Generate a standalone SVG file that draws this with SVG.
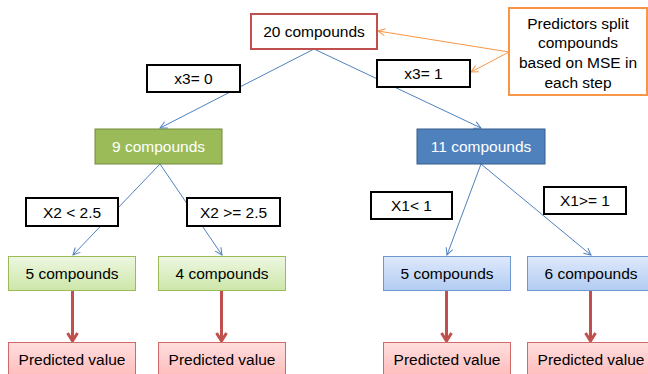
<svg xmlns="http://www.w3.org/2000/svg" width="648" height="374" viewBox="0 0 648 374">
<defs>
<linearGradient id="gGreen" x1="0" y1="0" x2="0" y2="1"><stop offset="0" stop-color="#EEF7E2"/><stop offset="1" stop-color="#CDE6A8"/></linearGradient>
<linearGradient id="gBlue" x1="0" y1="0" x2="0" y2="1"><stop offset="0" stop-color="#DEE9FB"/><stop offset="1" stop-color="#B2CCF2"/></linearGradient>
<linearGradient id="gPink" x1="0" y1="0" x2="0" y2="1"><stop offset="0" stop-color="#FFDEDE"/><stop offset="1" stop-color="#FFB6B6"/></linearGradient>
<marker id="aBlue" markerWidth="10" markerHeight="10" refX="8" refY="4" orient="auto" markerUnits="userSpaceOnUse"><path d="M1,0.5 L8,4 L1,7.5" fill="none" stroke="#4F81BD" stroke-width="1"/></marker>
<marker id="aOrange" markerWidth="10" markerHeight="10" refX="8" refY="4" orient="auto" markerUnits="userSpaceOnUse"><path d="M1,0.5 L8,4 L1,7.5" fill="none" stroke="#F79646" stroke-width="1"/></marker>
<marker id="aRed" markerWidth="14" markerHeight="14" refX="10" refY="6" orient="auto" markerUnits="userSpaceOnUse"><path d="M2,1 L10,6 L2,11" fill="none" stroke="#C0504D" stroke-width="3"/></marker>
</defs>
<style>
text{font-family:"Liberation Sans",Arial,sans-serif;font-size:15.5px;fill:#000;text-anchor:middle}
.blue{stroke:#4F81BD;stroke-width:1;fill:none;marker-end:url(#aBlue)}
.orange{stroke:#F79646;stroke-width:1;fill:none;marker-end:url(#aOrange)}
.red{stroke:#C0504D;stroke-width:3;fill:none;marker-end:url(#aRed)}
.cond{fill:#fff;stroke:#000;stroke-width:2}
.lg{fill:url(#gGreen);stroke:#9BBB59;stroke-width:1}
.lb{fill:url(#gBlue);stroke:#6F98D0;stroke-width:1}
.pk{fill:url(#gPink);stroke:#D06A66;stroke-width:1}
.w{fill:#fff}
</style>
<rect width="648" height="374" fill="#fff"/>
<g id="connectors">
<line class="blue" x1="314" y1="49" x2="160" y2="128"/>
<line class="blue" x1="314" y1="49" x2="481" y2="128"/>
<line class="blue" x1="160" y1="164" x2="73" y2="255"/>
<line class="blue" x1="160" y1="164" x2="222" y2="255"/>
<line class="blue" x1="481" y1="164" x2="447" y2="255"/>
<line class="blue" x1="481" y1="164" x2="591" y2="255"/>
<line class="orange" x1="509" y1="52" x2="378" y2="31"/>
<line class="orange" x1="509" y1="52" x2="471" y2="72"/>
<line class="red" x1="72.5" y1="291" x2="72.5" y2="341"/>
<line class="red" x1="221.5" y1="291" x2="221.5" y2="341"/>
<line class="red" x1="446.5" y1="291" x2="446.5" y2="341"/>
<line class="red" x1="590.5" y1="291" x2="590.5" y2="341"/>
</g>
<g id="root"><rect x="251" y="14" width="126" height="35" fill="#fff" stroke="#C0504D" stroke-width="2"/><text x="314" y="37">20 compounds</text></g>
<g id="note"><rect x="509" y="8" width="138" height="87" fill="#fff" stroke="#F79646" stroke-width="2"/>
<text x="578" y="28.5">Predictors split</text><text x="578" y="48">compounds</text><text x="578" y="68">based on MSE in</text><text x="578" y="87.5">each step</text></g>
<g id="c_x3_0"><rect class="cond" x="147" y="65" width="93" height="27"/><text x="193.5" y="84">x3= 0</text></g>
<g id="c_x3_1"><rect class="cond" x="377" y="60" width="93" height="27"/><text x="423.5" y="79">x3= 1</text></g>
<g id="n9"><rect x="95" y="129" width="127" height="35" fill="#9BBB59" stroke="#71893F" stroke-width="1"/><text class="w" x="158.5" y="152">9 compounds</text></g>
<g id="n11"><rect x="417" y="129" width="128" height="35" fill="#4F81BD" stroke="#385D8A" stroke-width="1"/><text class="w" x="481" y="152">11 compounds</text></g>
<g id="c_x2_lt"><rect class="cond" x="26" y="198" width="92" height="28"/><text x="72" y="217.5">X2 &lt; 2.5</text></g>
<g id="c_x2_ge"><rect class="cond" x="187" y="198" width="93" height="28"/><text x="233.5" y="217.5">X2 &gt;= 2.5</text></g>
<g id="c_x1_lt"><rect class="cond" x="371" y="192" width="81" height="27"/><text x="411.5" y="211">X1&lt; 1</text></g>
<g id="c_x1_ge"><rect class="cond" x="544" y="187" width="82" height="27"/><text x="585" y="206">X1&gt;= 1</text></g>
<g id="n5a"><rect class="lg" x="8.5" y="256.5" width="127" height="34"/><text x="72" y="279">5 compounds</text></g>
<g id="n4"><rect class="lg" x="158.5" y="256.5" width="127" height="34"/><text x="222" y="279">4 compounds</text></g>
<g id="n5b"><rect class="lb" x="383.5" y="256.5" width="127" height="34"/><text x="447" y="279">5 compounds</text></g>
<g id="n6"><rect class="lb" x="527.5" y="256.5" width="127" height="34"/><text x="591" y="279">6 compounds</text></g>
<g id="p1"><rect class="pk" x="8.5" y="342.5" width="127" height="40"/><text x="72" y="364.5">Predicted value</text></g>
<g id="p2"><rect class="pk" x="158.5" y="342.5" width="127" height="40"/><text x="222" y="364.5">Predicted value</text></g>
<g id="p3"><rect class="pk" x="383.5" y="342.5" width="127" height="40"/><text x="447" y="364.5">Predicted value</text></g>
<g id="p4"><rect class="pk" x="527.5" y="342.5" width="127" height="40"/><text x="591" y="364.5">Predicted value</text></g>
</svg>
